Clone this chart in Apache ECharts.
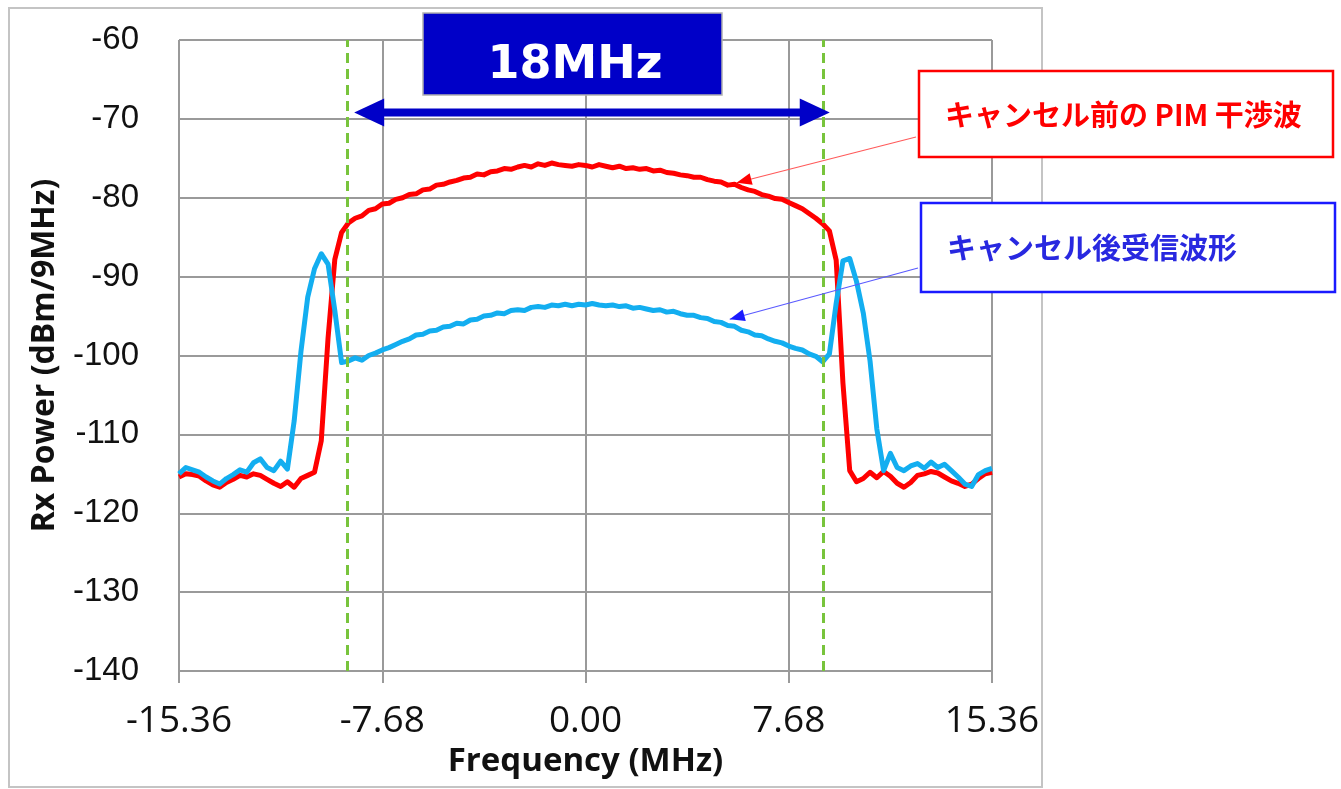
<!DOCTYPE html>
<html>
<head>
<meta charset="utf-8">
<script src="https://cdn.jsdelivr.net/npm/echarts@6/dist/echarts.min.js"></script>
<style>
html,body{margin:0;padding:0;background:#fff;}
#c{width:1341px;height:789px;}
</style>
</head>
<body>
<div id="c"></div>
<script>
// ---------------- data ----------------
const frequencyMHz = [
  -15.36,-15.104,-14.848,-14.592,-14.336,-14.08,-13.824,-13.568,-13.312,-13.056,
  -12.8,-12.544,-12.288,-12.032,-11.776,-11.52,-11.264,-11.008,-10.752,-10.496,
  -10.24,-9.984,-9.728,-9.472,-9.216,-8.96,-8.704,-8.448,-8.192,-7.936,
  -7.68,-7.424,-7.168,-6.912,-6.656,-6.4,-6.144,-5.888,-5.632,-5.376,
  -5.12,-4.864,-4.608,-4.352,-4.096,-3.84,-3.584,-3.328,-3.072,-2.816,
  -2.56,-2.304,-2.048,-1.792,-1.536,-1.28,-1.024,-0.768,-0.512,-0.256,
  0,0.256,0.512,0.768,1.024,1.28,1.536,1.792,2.048,2.304,
  2.56,2.816,3.072,3.328,3.584,3.84,4.096,4.352,4.608,4.864,
  5.12,5.376,5.632,5.888,6.144,6.4,6.656,6.912,7.168,7.424,
  7.68,7.936,8.192,8.448,8.704,8.96,9.216,9.472,9.728,9.984,
  10.24,10.496,10.752,11.008,11.264,11.52,11.776,12.032,12.288,12.544,
  12.8,13.056,13.312,13.568,13.824,14.08,14.336,14.592,14.848,15.104,
  15.36
];
// PIM interference before cancellation (red)
const powerBefore = [
  -115.4,-115.0,-115.1,-115.3,-115.9,-116.4,-116.7,-116.1,-115.7,-115.2,
  -115.4,-115.0,-115.2,-115.7,-116.2,-116.6,-116.0,-116.7,-115.6,-115.2,
  -114.8,-110.8,-97.8,-87.8,-84.4,-83.2,-82.6,-82.3,-81.6,-81.4,
  -80.8,-80.7,-80.2,-80.0,-79.6,-79.5,-79.0,-78.9,-78.4,-78.3,
  -78.0,-77.8,-77.5,-77.4,-77.0,-77.1,-76.7,-76.6,-76.3,-76.4,
  -76.1,-75.9,-76.1,-75.7,-75.9,-75.6,-75.8,-75.9,-76.0,-75.8,
  -75.9,-76.1,-75.8,-76.0,-76.2,-76.0,-76.3,-76.2,-76.4,-76.3,
  -76.6,-76.5,-76.8,-76.9,-77.1,-77.2,-77.4,-77.4,-77.7,-77.9,
  -78.0,-78.4,-78.3,-78.7,-79.0,-79.2,-79.6,-79.8,-80.1,-80.2,
  -80.6,-81.0,-81.4,-82.0,-82.6,-83.3,-84.2,-87.9,-103.5,-114.6,
  -116.0,-115.6,-114.8,-115.5,-114.7,-115.3,-116.2,-116.7,-116.1,-115.2,
  -115.0,-114.7,-114.9,-115.4,-115.9,-116.2,-116.6,-116.3,-115.6,-115.0,
  -114.8
];
// received waveform after cancellation (light blue)
const powerAfter = [
  -115.0,-114.2,-114.5,-114.8,-115.4,-115.9,-116.3,-115.6,-115.1,-114.5,
  -114.8,-113.6,-113.1,-114.2,-114.6,-113.4,-114.4,-108.3,-99.5,-92.6,
  -89.0,-87.1,-88.4,-94.3,-100.9,-100.7,-100.3,-100.6,-100.0,-99.7,
  -99.3,-99.0,-98.6,-98.2,-97.9,-97.4,-97.3,-96.9,-96.8,-96.4,
  -96.3,-95.9,-96.0,-95.5,-95.4,-95.0,-94.9,-94.6,-94.7,-94.3,
  -94.2,-94.3,-93.9,-93.8,-93.9,-93.6,-93.7,-93.5,-93.7,-93.5,
  -93.6,-93.4,-93.6,-93.7,-93.6,-93.8,-93.7,-94.0,-93.9,-94.1,
  -94.3,-94.2,-94.5,-94.4,-94.7,-94.9,-94.9,-95.2,-95.3,-95.7,
  -95.8,-96.2,-96.3,-96.8,-97.0,-97.4,-97.5,-97.9,-98.2,-98.4,
  -98.8,-99.1,-99.3,-99.8,-100.1,-100.8,-99.8,-93.4,-88.0,-87.7,
  -90.6,-94.6,-100.7,-109.3,-114.6,-112.4,-114.2,-114.6,-114.0,-113.7,
  -114.3,-113.5,-114.2,-113.8,-114.6,-115.4,-116.3,-116.6,-115.1,-114.6,
  -114.3
];
const xAxisRange = [-15.36, 15.36];
const xTickStep = 7.68;
const yAxisRange = [-140, -60];
const yTickStep = 10;
const bandEdgesMHz = [-9, 9];
const bandLabel = '18MHz';
const bandArrowEnds = [-8.74, 9.23];   // MHz, arrow tips
const bandArrowLevel = -69.2;          // dBm
const labelBefore = 'キャンセル前の PIM 干渉波';
const labelAfter = 'キャンセル後受信波形';
const pointerBefore = [5.71, -78.1];
const pointerAfter = [5.45, -95.4];
const xAxisTitle = 'Frequency (MHz)';
const yAxisTitle = 'Rx Power (dBm/9MHz)';

// ---------------- chart ----------------
const chart = echarts.init(document.getElementById('c'), null, {renderer: 'canvas'});
const gridColor = '#9a9a9a';

const option = {
  animation: false,
  backgroundColor: '#ffffff',
  grid: {left: 179, top: 40, width: 813, height: 631, outerBoundsMode: 'none', containLabel: false},
  xAxis: {
    type: 'value',
    min: xAxisRange[0], max: xAxisRange[1], interval: xTickStep,
    axisLine: {show: true, onZero: false, lineStyle: {color: gridColor, width: 2}},
    axisTick: {show: true, length: 12, lineStyle: {color: gridColor, width: 2}},
    splitLine: {show: true, lineStyle: {color: gridColor, width: 2}},
    axisLabel: {
      margin: 32, fontFamily: 'Open Sans', fontSize: 37, color: '#111',
      formatter: v => v.toFixed(2)
    },
    name: xAxisTitle, nameLocation: 'middle', nameGap: 68,
    nameTextStyle: {fontFamily: 'Open Sans', fontWeight: 'bold', fontSize: 33, color: '#111'}
  },
  yAxis: {
    type: 'value',
    min: yAxisRange[0], max: yAxisRange[1], interval: yTickStep,
    axisLine: {show: true, lineStyle: {color: gridColor, width: 2}},
    axisTick: {show: true, length: 12, lineStyle: {color: gridColor, width: 2}},
    splitLine: {show: true, lineStyle: {color: gridColor, width: 2}},
    axisLabel: {margin: 40, fontFamily: 'Liberation Sans', fontSize: 33, color: '#111'},
    name: yAxisTitle, nameLocation: 'middle', nameGap: 118,
    nameTextStyle: {fontFamily: 'Open Sans', fontWeight: 'bold', fontSize: 32, color: '#111'}
  },
  series: [
    {
      name: labelBefore, type: 'line', showSymbol: false, z: 3,
      data: frequencyMHz.map((f, i) => [f, powerBefore[i]]),
      lineStyle: {color: '#ff0000', width: 5, join: 'round'},
      itemStyle: {color: '#ff0000'},
      markLine: {
        silent: true, symbol: 'none', label: {show: false}, z: 5,
        lineStyle: {color: '#78c43c', width: 3, type: [10, 6]},
        data: bandEdgesMHz.map(v => ({xAxis: v}))
      }
    },
    {
      name: labelAfter, type: 'line', showSymbol: false, z: 4,
      data: frequencyMHz.map((f, i) => [f, powerAfter[i]]),
      lineStyle: {color: '#13aef0', width: 5, join: 'round'},
      itemStyle: {color: '#13aef0'}
    }
  ]
};
chart.setOption(option);

// ---------------- annotations ----------------
function px(p) { return chart.convertToPixel({gridIndex: 0}, p); }
function arrowHead(tip, from, len, half) {
  const dx = tip[0] - from[0], dy = tip[1] - from[1];
  const L = Math.hypot(dx, dy), ux = dx / L, uy = dy / L;
  const bx = tip[0] - ux * len, by = tip[1] - uy * len;
  return [tip, [bx - uy * half, by + ux * half], [bx + uy * half, by - ux * half]];
}
const tL = px([bandArrowEnds[0], bandArrowLevel]);
const tR = px([bandArrowEnds[1], bandArrowLevel]);
const bandBlue = '#0000c8';
const redTip = px(pointerBefore);
const blueTip = px(pointerAfter);
const redFrom = [916, 137];
const blueFrom = [918, 268];

const graphics = [
  {type: 'rect', z: 0, silent: true, shape: {x: 9, y: 8, width: 1033, height: 779},
   style: {fill: null, stroke: '#c4c4c4', lineWidth: 2}},
  // band arrow
  {type: 'line', z: 50, shape: {x1: tL[0] + 24, y1: tL[1], x2: tR[0] - 24, y2: tR[1]},
   style: {stroke: bandBlue, lineWidth: 8}},
  {type: 'polygon', z: 50, shape: {points: [tL, [tL[0] + 30, tL[1] - 14], [tL[0] + 30, tL[1] + 14]]},
   style: {fill: bandBlue}},
  {type: 'polygon', z: 50, shape: {points: [tR, [tR[0] - 30, tR[1] - 14], [tR[0] - 30, tR[1] + 14]]},
   style: {fill: bandBlue}},
  // 18MHz box
  {type: 'rect', z: 50, shape: {x: 423, y: 13, width: 299, height: 82},
   style: {fill: bandBlue, stroke: '#b0b0b0', lineWidth: 1.5}},
  {type: 'text', z: 51, style: {x: 575, y: 66, text: bandLabel, fill: '#ffffff',
   font: 'bold 46px "DejaVu Sans"', textAlign: 'center', textVerticalAlign: 'middle'}},
  // leader lines
  {type: 'line', z: 50, shape: {x1: redFrom[0], y1: redFrom[1], x2: redTip[0], y2: redTip[1]},
   style: {stroke: '#ff5a5a', lineWidth: 1.2}},
  {type: 'polygon', z: 50, shape: {points: arrowHead(redTip, redFrom, 15, 6)}, style: {fill: '#ff0000'}},
  {type: 'line', z: 50, shape: {x1: blueFrom[0], y1: blueFrom[1], x2: blueTip[0], y2: blueTip[1]},
   style: {stroke: '#5a5aff', lineWidth: 1.2}},
  {type: 'polygon', z: 50, shape: {points: arrowHead(blueTip, blueFrom, 15, 6)}, style: {fill: '#1a1aff'}},
  // label boxes
  {type: 'rect', z: 60, shape: {x: 919, y: 71, width: 414, height: 86},
   style: {fill: '#ffffff', stroke: '#ff0000', lineWidth: 2.5}},
  {type: 'text', z: 61, style: {x: 945, y: 115, text: labelBefore, fill: '#ff0000',
   font: 'bold 29px "Noto Sans CJK JP"', textAlign: 'left', textVerticalAlign: 'middle'}},
  {type: 'rect', z: 60, shape: {x: 921, y: 203, width: 414, height: 89},
   style: {fill: '#ffffff', stroke: '#1a1aff', lineWidth: 2.5}},
  {type: 'text', z: 61, style: {x: 947, y: 248, text: labelAfter, fill: '#2828e0',
   font: 'bold 29px "Noto Sans CJK JP"', textAlign: 'left', textVerticalAlign: 'middle'}}
];
chart.setOption({graphic: graphics});
</script>
</body>
</html>
